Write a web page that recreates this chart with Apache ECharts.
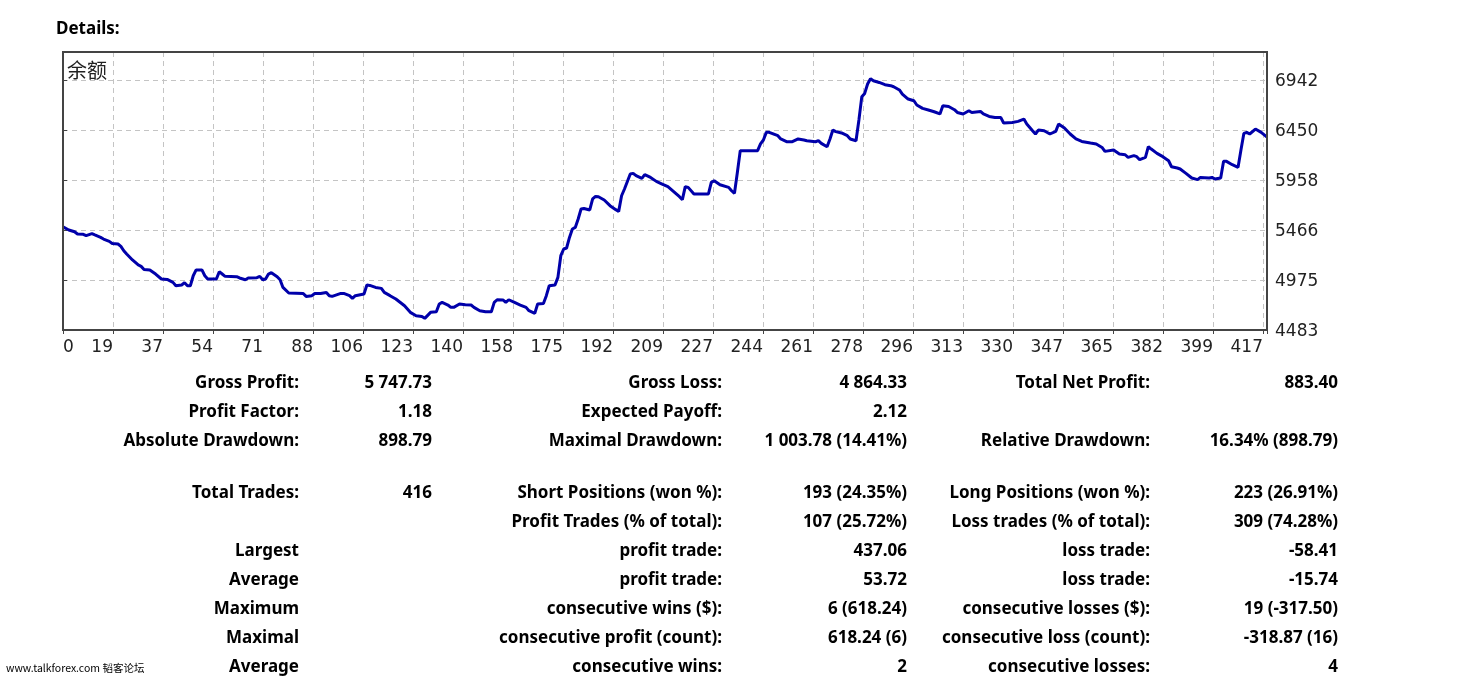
<!DOCTYPE html>
<html>
<head>
<meta charset="utf-8">
<script src="https://cdn.jsdelivr.net/npm/echarts@6/dist/echarts.min.js"></script>
<style>
html,body{margin:0;padding:0;background:#fff;}
#chart{width:1467px;height:678px;}
</style>
</head>
<body>
<div id="chart"></div>
<script>
// ---- data ----
const xTickLabels = ['0','19','37','54','71','88','106','123','140','158','175','192','209','227','244','261','278','296','313','330','347','365','382','399','417'];
const yTickLabels = ['4483','4975','5466','5958','6450','6942'];

const tradeIndex = [0,2,4,5,7,8,10,11,13,14,16,17,19,20,21,22,24,26,27,28,30,32,34,36,38,39,41,42,43,44,45,46,48,49,50,53,54,55,56,60,61,63,64,67,68,69,70,71,72,74,75,76,78,83,84,86,87,89,91,92,93,96,97,99,100,101,104,105,106,108,110,111,113,115,118,120,122,124,125,127,129,130,131,133,134,135,137,139,141,142,144,146,148,149,150,152,153,154,156,158,160,161,163,164,166,167,168,170,171,172,173,174,175,176,177,178,179,180,182,183,184,185,187,189,191,192,193,194,196,197,198,200,201,203,205,207,209,211,213,214,215,216,218,223,224,225,227,230,231,232,233,234,240,241,242,243,244,247,248,250,252,254,256,257,260,261,262,264,265,266,267,269,271,272,274,275,276,277,278,279,280,282,284,286,287,289,290,292,294,295,297,299,301,303,304,306,308,309,311,313,314,317,318,320,322,324,325,328,330,332,333,335,336,337,339,341,343,344,346,348,350,352,355,357,359,360,363,365,367,368,370,371,372,374,375,376,378,380,382,383,385,386,388,390,392,393,396,397,398,400,401,402,404,406,407,408,409,410,412,414,416];
const balance = [5497,5467,5450,5428,5424,5411,5431,5418,5394,5378,5355,5335,5329,5306,5263,5231,5172,5123,5109,5079,5074,5034,4985,4981,4952,4919,4926,4949,4919,4919,5017,5074,5074,5017,4985,4985,5057,5034,5011,5008,4995,4978,4995,4998,5011,4978,4985,5034,5047,5008,4978,4902,4847,4843,4814,4821,4843,4843,4853,4821,4814,4843,4843,4821,4794,4821,4838,4926,4922,4902,4893,4853,4821,4788,4722,4657,4624,4617,4598,4657,4663,4739,4755,4729,4706,4706,4739,4732,4729,4706,4673,4663,4663,4755,4781,4779,4755,4781,4755,4729,4706,4673,4647,4739,4745,4821,4919,4926,5001,5214,5280,5290,5394,5477,5492,5575,5673,5679,5664,5772,5797,5794,5762,5706,5667,5650,5804,5870,6018,6024,6001,5974,6011,5984,5945,5919,5893,5844,5794,5765,5893,5886,5821,5821,5935,5952,5912,5886,5853,5827,6033,6247,6247,6313,6352,6427,6427,6394,6362,6335,6335,6362,6352,6345,6335,6345,6319,6286,6362,6450,6434,6421,6394,6362,6345,6549,6778,6810,6903,6955,6935,6918,6896,6886,6876,6844,6804,6755,6738,6696,6663,6647,6630,6608,6689,6682,6650,6623,6608,6640,6623,6633,6608,6584,6574,6574,6519,6525,6535,6558,6509,6443,6411,6450,6443,6411,6437,6509,6470,6411,6362,6338,6322,6313,6279,6240,6254,6214,6207,6181,6198,6188,6158,6181,6286,6263,6220,6188,6148,6089,6077,6067,6024,5978,5962,5984,5978,5984,5968,5978,6142,6142,6109,6083,6254,6417,6427,6411,6460,6427,6380];

const seriesName = '余额';
const pageTitle = 'Details:';
const watermark = 'www.talkforex.com 韬客论坛';

// statistics table: each row has 6 cells
const statRows = [
  ['Gross Profit:', '5 747.73', 'Gross Loss:', '4 864.33', 'Total Net Profit:', '883.40'],
  ['Profit Factor:', '1.18', 'Expected Payoff:', '2.12', '', ''],
  ['Absolute Drawdown:', '898.79', 'Maximal Drawdown:', '1 003.78 (14.41%)', 'Relative Drawdown:', '16.34% (898.79)'],
  ['Total Trades:', '416', 'Short Positions (won %):', '193 (24.35%)', 'Long Positions (won %):', '223 (26.91%)'],
  ['', '', 'Profit Trades (% of total):', '107 (25.72%)', 'Loss trades (% of total):', '309 (74.28%)'],
  ['Largest', '', 'profit trade:', '437.06', 'loss trade:', '-58.41'],
  ['Average', '', 'profit trade:', '53.72', 'loss trade:', '-15.74'],
  ['Maximum', '', 'consecutive wins ($):', '6 (618.24)', 'consecutive losses ($):', '19 (-317.50)'],
  ['Maximal', '', 'consecutive profit (count):', '618.24 (6)', 'consecutive loss (count):', '-318.87 (16)'],
  ['Average', '', 'consecutive wins:', '2', 'consecutive losses:', '4']
];

// ---- layout ----
const GRID = {left: 63, top: 52, width: 1204, height: 278};
const X_MIN = 0, X_MAX = 416;
const X_INT = (X_MAX - X_MIN) * 50 / GRID.width;
const Y_MIN = 4483.5, Y_INT = 491.7;
const Y_MAX = Y_MIN + Y_INT * GRID.height / 50;
const colRight = [299, 432, 722, 907, 1150, 1338];
const rowY = [383, 412, 441, 493, 522, 551, 580, 609, 638, 667];

function tickLabel(v, min, step, labels) {
  const k = Math.round((v - min) / step);
  if (Math.abs(v - (min + k * step)) > 0.01) return '';
  return labels[k] !== undefined ? labels[k] : '';
}

const chart = echarts.init(document.getElementById('chart'), null, {renderer: 'canvas'});

const graphics = [
  {type: 'text', x: 56, y: 29, style: {text: pageTitle, font: 'bold 17px "Noto Sans"', fill: '#000', align: 'left', verticalAlign: 'middle'}},
  {type: 'text', x: 67, y: 70, z: 10, style: {text: seriesName, font: '20px "Noto Sans CJK SC"', fill: '#222', align: 'left', verticalAlign: 'middle'}},
  {type: 'text', x: 6, y: 668, style: {text: watermark, font: '10.5px "Noto Sans CJK SC"', fill: '#000', align: 'left', verticalAlign: 'middle'}},
  {type: 'rect', z: 20, silent: true,
   shape: {x: GRID.left, y: GRID.top, width: GRID.width, height: GRID.height},
   style: {fill: 'none', stroke: '#444', lineWidth: 2}}
];
statRows.forEach((row, r) => {
  row.forEach((cell, c) => {
    if (!cell) return;
    graphics.push({type: 'text', x: colRight[c], y: rowY[r],
      style: {text: cell, font: 'bold 17px "Noto Sans"', fill: '#000', align: 'right', verticalAlign: 'middle'}});
  });
});

chart.setOption({
  animation: false,
  backgroundColor: '#fff',
  grid: {left: GRID.left, top: GRID.top, width: GRID.width, height: GRID.height,
         show: false, containLabel: false},
  xAxis: {
    type: 'value', min: X_MIN, max: X_MAX, interval: X_INT,
    axisLine: {show: false},
    axisTick: {show: true, length: 4, lineStyle: {color: '#444', width: 1}},
    splitLine: {show: true, showMinLine: false, showMaxLine: false,
                lineStyle: {color: '#c4c4c4', type: [5, 4], width: 1}},
    axisLabel: {
      color: '#222', fontFamily: 'DejaVu Sans', fontSize: 17, margin: 9,
      align: 'right', alignMinLabel: 'left',
      formatter: v => tickLabel(v, X_MIN, X_INT, xTickLabels)
    }
  },
  yAxis: {
    type: 'value', position: 'right', min: Y_MIN, max: Y_MAX, interval: Y_INT,
    axisLine: {show: false},
    axisTick: {show: true, length: 4, lineStyle: {color: '#444', width: 1}},
    splitLine: {show: true, showMinLine: false, showMaxLine: false,
                lineStyle: {color: '#c4c4c4', type: [5, 4], width: 1}},
    axisLabel: {
      color: '#222', fontFamily: 'DejaVu Sans', fontSize: 17, margin: 8,
      verticalAlign: 'top', lineHeight: 4,
      showMaxLabel: false,
      formatter: v => tickLabel(v, Y_MIN, Y_INT, yTickLabels)
    }
  },
  series: [{
    type: 'line', name: seriesName, showSymbol: false, symbol: 'none',
    data: tradeIndex.map((t, i) => [t, balance[i]]),
    lineStyle: {color: '#0000aa', width: 3},
    z: 5
  }],
  graphic: graphics
});
</script>
</body>
</html>
